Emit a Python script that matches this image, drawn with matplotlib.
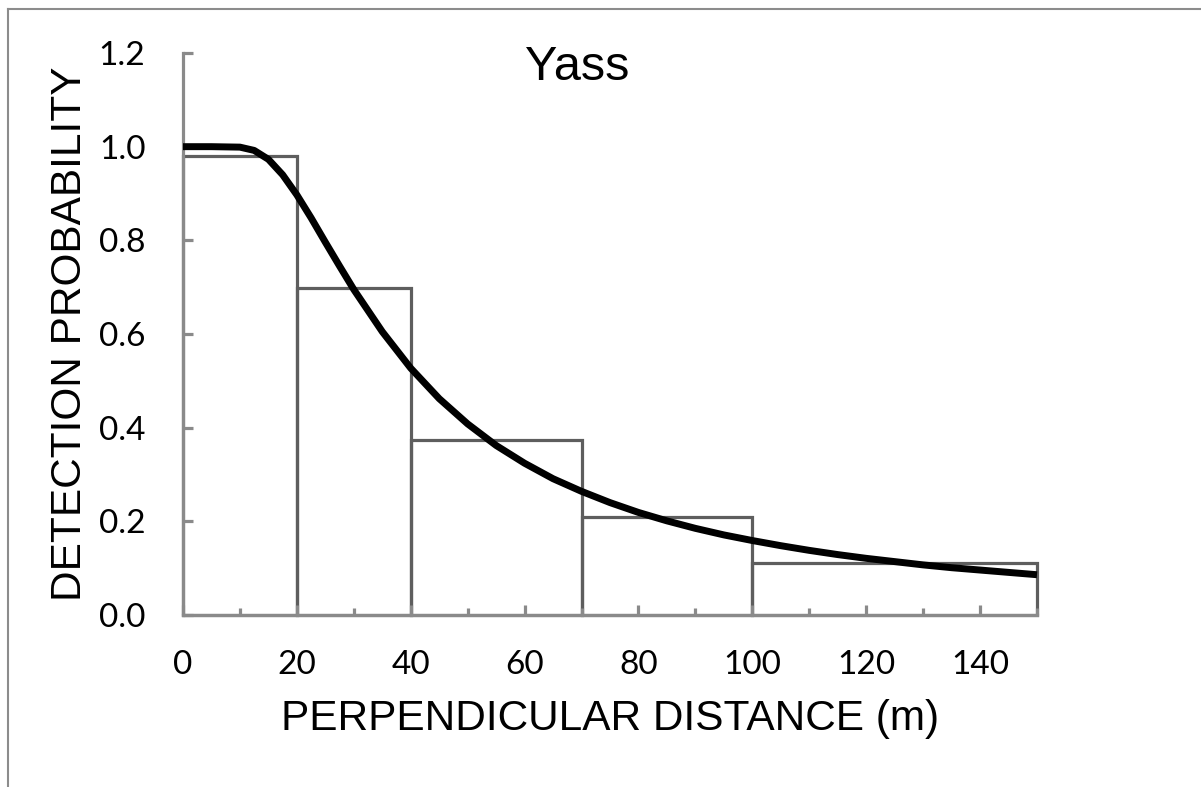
import matplotlib
matplotlib.use("Agg")
import matplotlib.pyplot as plt
from matplotlib.lines import Line2D
from matplotlib.ticker import MultipleLocator

# Histogram bins (perpendicular distance, m) and scaled heights
bin_left = [0, 20, 40, 70, 100]
bin_width = [20, 20, 30, 30, 50]
bin_height = [0.981, 0.699, 0.374, 0.210, 0.112]

# Fitted detection function
curve_x = [0, 5, 10, 12.5, 15, 17.5, 20, 22.5, 25, 27.5, 30, 35, 40, 45, 50, 55, 60,
           65, 70, 75, 80, 85, 90, 95, 100, 105, 110, 115, 120, 125, 130, 135,
           140, 145, 150]
curve_y = [1.000, 1.000, 0.999, 0.992, 0.973, 0.940, 0.897, 0.848, 0.796, 0.745,
           0.695, 0.605, 0.527, 0.462, 0.408, 0.362, 0.324, 0.291, 0.264, 0.240,
           0.219, 0.201, 0.185, 0.171, 0.159, 0.148, 0.138, 0.129, 0.121, 0.114,
           0.107, 0.101, 0.096, 0.091, 0.086]

x_ticks = [0, 20, 40, 60, 80, 100, 120, 140]
y_ticks = [0.0, 0.2, 0.4, 0.6, 0.8, 1.0, 1.2]

plt.rcParams["font.family"] = ["Lato", "DejaVu Sans"]

W, H = 1201, 787
fig = plt.figure(figsize=(W / 100, H / 100), dpi=100)
ax = fig.add_axes([183 / W, 1 - 615 / H, 854 / W, 562 / H])

spine_col = "#8a8a8a"
bar_col = "#5e5e5e"

ax.bar(bin_left, bin_height, width=bin_width, align="edge", fill=False,
       edgecolor=bar_col, linewidth=2.3, clip_on=False, zorder=1)
ax.plot(curve_x, curve_y, color="black", linewidth=5, solid_capstyle="butt",
        zorder=4, clip_on=False)

ax.set_xlim(0, 150)
ax.set_ylim(0, 1.2)
for s in ["top", "right"]:
    ax.spines[s].set_visible(False)
for s in ["left", "bottom"]:
    ax.spines[s].set_color(spine_col)
    ax.spines[s].set_linewidth(2.3)
    ax.spines[s].set_zorder(3)

ax.set_xticks(x_ticks)
ax.set_xticklabels([str(v) for v in x_ticks])
ax.xaxis.set_minor_locator(MultipleLocator(10))
ax.set_yticks(y_ticks)
ax.set_yticklabels([f"{v:.1f}" for v in y_ticks])

ax.tick_params(axis="both", which="both", direction="in", color=spine_col,
               width=2.3, labelsize=24, labelcolor="black")
ax.tick_params(axis="x", which="major", length=7, pad=25)
ax.tick_params(axis="x", which="minor", length=5)
ax.tick_params(axis="y", which="major", length=7, pad=27)

ax.set_xlabel("PERPENDICULAR DISTANCE (m)", fontsize=30.5,
              fontfamily="Liberation Sans", labelpad=14)
ax.set_ylabel("DETECTION PROBABILITY", fontsize=30.5,
              fontfamily="Liberation Sans", labelpad=6)

fig.text(577 / W, 1 - 68 / H, "Yass", fontsize=35, fontfamily="Liberation Sans",
         ha="center", va="center")

# outer frame (partially cropped)
fig.add_artist(Line2D([8 / W, 1.0], [1 - 9 / H, 1 - 9 / H], color="#8c8c8c",
                      linewidth=1.5, transform=fig.transFigure))
fig.add_artist(Line2D([8 / W, 8 / W], [1 - 9 / H, 0.0], color="#8c8c8c",
                      linewidth=1.5, transform=fig.transFigure))

fig.savefig("out.png", dpi=100)
